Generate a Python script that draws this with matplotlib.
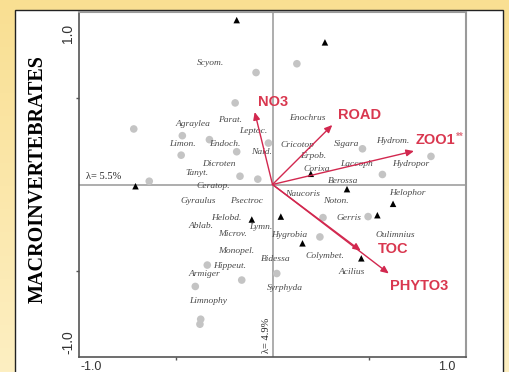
import matplotlib
matplotlib.use("Agg")
import matplotlib.pyplot as plt
from matplotlib.patches import Rectangle
from matplotlib.colors import LinearSegmentedColormap
import numpy as np

# ---------------- data ----------------
species_names = ["Scyom.", "Agraylea", "Parat.", "Leptoc.", "Limon.", "Endoch.", "Naid.",
                 "Dicroten", "Tanyt.", "Ceratop.", "Gyraulus", "Psectroc", "Helobd.",
                 "Ablab.", "Lymn.", "Microv.", "Hygrobia", "Monopel.", "Bidessa",
                 "Colymbet.", "Hippeut.", "Armiger", "Acilius", "Syrphyda", "Limnophy",
                 "Enochrus", "Cricotop", "Sigara", "Hydrom.", "Erpob.", "Corixa",
                 "Laccoph", "Hydropor", "Berossa", "Naucoris", "Noton.", "Helophor",
                 "Gerris", "Oulimnius"]
species_x = [-0.321, -0.413, -0.219, -0.097, -0.468, -0.244, -0.059,
             -0.276, -0.390, -0.304, -0.383, -0.136, -0.240,
             -0.369, -0.059, -0.206, 0.088, -0.188, 0.016,
             0.269, -0.223, -0.352, 0.408, 0.066, -0.332,
             0.178, 0.131, 0.382, 0.620, 0.209, 0.230,
             0.434, 0.715, 0.364, 0.157, 0.326, 0.698,
             0.394, 0.637]
species_y = [0.705, 0.351, 0.376, 0.308, 0.233, 0.234, 0.190,
             0.116, 0.068, -0.008, -0.097, -0.097, -0.192,
             -0.242, -0.246, -0.287, -0.293, -0.384, -0.434,
             -0.415, -0.471, -0.521, -0.506, -0.599, -0.674,
             0.385, 0.229, 0.233, 0.252, 0.167, 0.091,
             0.116, 0.116, 0.019, -0.054, -0.097, -0.048,
             -0.192, -0.293]

site_circle_x = [-0.717, -0.637, -0.085, 0.126, -0.193, -0.466, -0.326, -0.472,
                 -0.185, -0.021, -0.168, -0.076, 0.465, 0.819, 0.568, 0.261,
                 0.494, 0.245, -0.337, -0.399, -0.159, 0.022, -0.371, -0.375]
site_circle_y = [0.322, 0.019, 0.649, 0.700, 0.473, 0.283, 0.260, 0.170,
                 0.190, 0.240, 0.048, 0.031, 0.207, 0.163, 0.058, -0.192,
                 -0.186, -0.304, -0.467, -0.591, -0.554, -0.516, -0.781, -0.810]

site_triangle_x = [-0.185, 0.271, -0.708, 0.198, 0.385, 0.623, 0.542, -0.107, 0.043, 0.155, 0.459]
site_triangle_y = [0.953, 0.824, -0.010, 0.062, -0.027, -0.112, -0.178, -0.203, -0.186, -0.341, -0.428]

env_names = ["NO3", "ROAD", "ZOO1", "TOC", "PHYTO3"]
env_marks = ["", "", "**", "", ""]
env_x = [-0.092, 0.309, 0.731, 0.456, 0.601]
env_y = [0.420, 0.345, 0.194, -0.384, -0.516]

axis1_label = "λ= 5.5%"
axis2_label = "λ= 4.9%"
ylabel_text = "MACROINVERTEBRATES"
tick_labels = ["-1.0", "1.0"]

# ---------------- figure ----------------
W, H = 509, 372
fig = plt.figure(figsize=(W / 100, H / 100), dpi=100)

# yellow gradient background
bg = fig.add_axes([0, 0, 1, 1], zorder=-10)
grad = np.linspace(0, 1, 256).reshape(-1, 1)
cmap = LinearSegmentedColormap.from_list("bg", ["#F9DF92", "#FDEFC2"])
bg.imshow(grad, aspect="auto", cmap=cmap, extent=[0, 1, 0, 1], origin="upper")
bg.set_xlim(0, 1)
bg.set_ylim(0, 1)
bg.axis("off")
# white panel
bg.add_patch(Rectangle((15 / W, -0.1), (503 - 15) / W, 1 - 10 / H + 0.1,
                       facecolor="white", edgecolor="#222222", lw=1.0))

ax = fig.add_axes([79 / W, 1 - 357 / H, (466 - 79) / W, (357 - 12) / H])
ax.set_xlim(-1, 1)
ax.set_ylim(-1, 1)
ax.patch.set_alpha(0)
for side in ["left", "bottom"]:
    ax.spines[side].set_color("#555555")
    ax.spines[side].set_linewidth(1.2)
for side in ["right", "top"]:
    ax.spines[side].set_color("#9a9a9a")
    ax.spines[side].set_linewidth(1.5)
ax.set_xticks([-0.5, 0.5])
ax.set_yticks([-0.5, 0.5])
ax.set_xticklabels([])
ax.set_yticklabels([])
ax.tick_params(length=2, width=1, color="#555555", direction="out")

ax.axhline(0, color="#a0a0a0", lw=1.2, zorder=1)
ax.axvline(0, color="#a0a0a0", lw=1.2, zorder=1)

ax.scatter(site_circle_x, site_circle_y, s=30, color="#c4c4c4", edgecolors="none", zorder=2)
ax.scatter(site_triangle_x, site_triangle_y, s=22, marker="^", color="black",
           edgecolors="none", zorder=3)

for name, x, y in zip(species_names, species_x, species_y):
    ax.text(x, y, name, fontsize=6.8, family="Liberation Serif", style="italic",
            color="#4a4a4a", ha="center", va="center", zorder=4)

arrow_color = "#d2284f"
for x, y in zip(env_x, env_y):
    ax.annotate("", xy=(x, y), xytext=(0, 0),
                arrowprops=dict(arrowstyle="-|>,head_length=0.45,head_width=0.2",
                                color=arrow_color, lw=1.0, shrinkA=0, shrinkB=0),
                zorder=5)

env_label_dx = [0.015, 0.03, 0.01, 0.09, 0.005]
env_label_dy = [0.06, 0.06, 0.066, 0.01, -0.07]
for name, mark, x, y, dx, dy in zip(env_names, env_marks, env_x, env_y,
                                     env_label_dx, env_label_dy):
    t = ax.text(x + dx, y + dy, name, fontsize=10.5, family="Liberation Sans",
                weight="bold", color="#d9374f", ha="left", va="center", zorder=6)
    if mark:
        ax.annotate(mark, xy=(1, 1), xycoords=t, xytext=(0.5, 0.5),
                    textcoords="offset points", fontsize=7, family="Liberation Sans",
                    weight="bold", color="#e0707f", ha="left", va="top", zorder=6)

ax.text(-0.965, 0.045, axis1_label, fontsize=7.5, family="Liberation Serif",
        color="#222222", ha="left", va="center")
ax.text(-0.008, -0.975, axis2_label, fontsize=7.5, family="Liberation Serif",
        color="#222222", ha="right", va="bottom", rotation=90)

# tick value labels
fig.text(68 / W, 1 - 33 / H, tick_labels[1], rotation=90, fontsize=10,
         family="Liberation Sans", color="#333333", ha="center", va="center")
fig.text(68 / W, 1 - 342 / H, tick_labels[0], rotation=90, fontsize=10,
         family="Liberation Sans", color="#333333", ha="center", va="center")
fig.text(91 / W, 1 - 361 / H, tick_labels[0], fontsize=9,
         family="Liberation Sans", color="#333333", ha="center", va="top")
fig.text(447 / W, 1 - 361 / H, tick_labels[1], fontsize=9,
         family="Liberation Sans", color="#333333", ha="center", va="top")

fig.text(38 / W, 1 - 179 / H, ylabel_text, rotation=90, fontsize=14.5,
         family="Liberation Serif", weight="bold", color="black",
         ha="center", va="center")

fig.savefig("out.png", dpi=100)
